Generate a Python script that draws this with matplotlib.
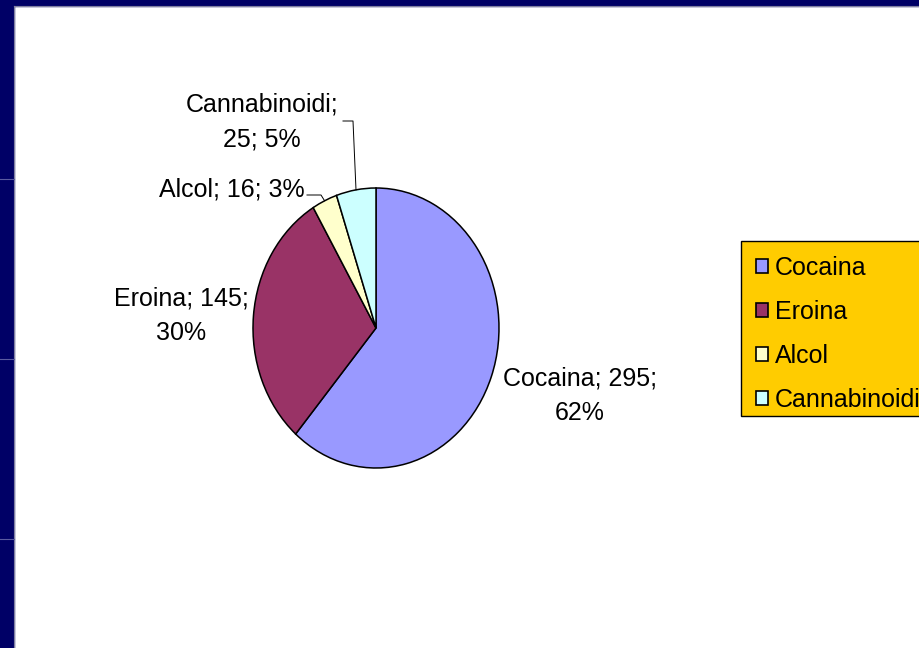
import matplotlib.pyplot as plt
import numpy as np
from matplotlib.patches import Rectangle

plt.rcParams['font.family'] = ['Liberation Sans', 'DejaVu Sans']

# data
categories = ['Cocaina', 'Eroina', 'Alcol', 'Cannabinoidi']
counts = [295, 145, 16, 25]
pct_labels = ['62%', '30%', '3%', '5%']
colors = ['#9999FF', '#993366', '#FFFFCC', '#CCFFFF']

W, H = 920, 648
fig = plt.figure(figsize=(W / 100, H / 100), dpi=100)
fig.patch.set_facecolor('white')

# slide frame: navy strips on top and left
navy = '#000066'
fig.patches.append(Rectangle((0, 1 - 6 / H), 1, 6 / H, transform=fig.transFigure,
                             color=navy, zorder=0))
fig.patches.append(Rectangle((0, 0), 14 / W, 1, transform=fig.transFigure,
                             color=navy, zorder=0))
fig.lines.append(plt.Line2D([14 / W, 14 / W], [0, 1 - 6 / H], transform=fig.transFigure,
                            color='#8080a0', lw=0.8))
fig.lines.append(plt.Line2D([14 / W, 1], [1 - 6 / H, 1 - 6 / H], transform=fig.transFigure,
                            color='#8080a0', lw=0.8))
for py in (179, 359, 539):
    fig.lines.append(plt.Line2D([0, 14 / W], [1 - py / H, 1 - py / H],
                                transform=fig.transFigure, color='#5a5aa0', lw=0.8))

# pie axes placed over the (slightly elliptical) pie area
cx, cy, rx, ry = 376, 328, 123, 140
ax = fig.add_axes([(cx - rx) / W, 1 - (cy + ry) / H, 2 * rx / W, 2 * ry / H])

wedges, _ = ax.pie(counts, colors=colors, startangle=90, counterclock=False,
                   radius=1, wedgeprops=dict(edgecolor='black', linewidth=1.1))
ax.set_xlim(-1, 1)
ax.set_ylim(-1, 1)
ax.set_aspect('auto')
ax.axis('off')


def to_data(px, py):
    return (px - cx) / rx, (cy - py) / ry


fs = 18
texts = [
    (f'{categories[0]}; {counts[0]};\n{pct_labels[0]}', (580, 396)),
    (f'{categories[1]}; {counts[1]};\n{pct_labels[1]}', (181, 316)),
    (f'{categories[2]}; {counts[2]}; {pct_labels[2]}', (232, 190)),
    (f'{categories[3]};\n{counts[3]}; {pct_labels[3]}', (262, 122)),
]
for txt, (px, py) in texts:
    x, y = to_data(px, py)
    ax.text(x, y, txt, ha='center', va='center', fontsize=fs, linespacing=1.55,
            clip_on=False)

# leader lines for the two small slices
for i, pts in ((2, [(307, 195), (321, 195)]), (3, [(343, 121), (353, 121)])):
    w = wedges[i]
    mid = np.deg2rad((w.theta1 + w.theta2) / 2)
    ex, ey = np.cos(mid), np.sin(mid)
    xs = [to_data(*p)[0] for p in pts] + [ex]
    ys = [to_data(*p)[1] for p in pts] + [ey]
    ax.plot(xs, ys, color='black', lw=0.7, clip_on=False)

# legend box (runs off the right edge like the original)
fig.patches.append(Rectangle((741 / W, 1 - 416 / H), 200 / W, 175 / H,
                             transform=fig.transFigure, facecolor='#FFCC00',
                             edgecolor='black', lw=1.0, zorder=1))
leg = fig.legend(wedges, categories, loc='upper left',
                 bbox_to_anchor=(741 / W, 1 - 241 / H), fontsize=fs,
                 frameon=False, handlelength=0.5,
                 handleheight=0.5, handletextpad=0.25, labelspacing=0.8,
                 borderpad=0.6, borderaxespad=0)
leg.set_zorder(2)
for h in leg.legend_handles:
    h.set_linewidth(1.2)

fig.savefig('out.png', dpi=100)
